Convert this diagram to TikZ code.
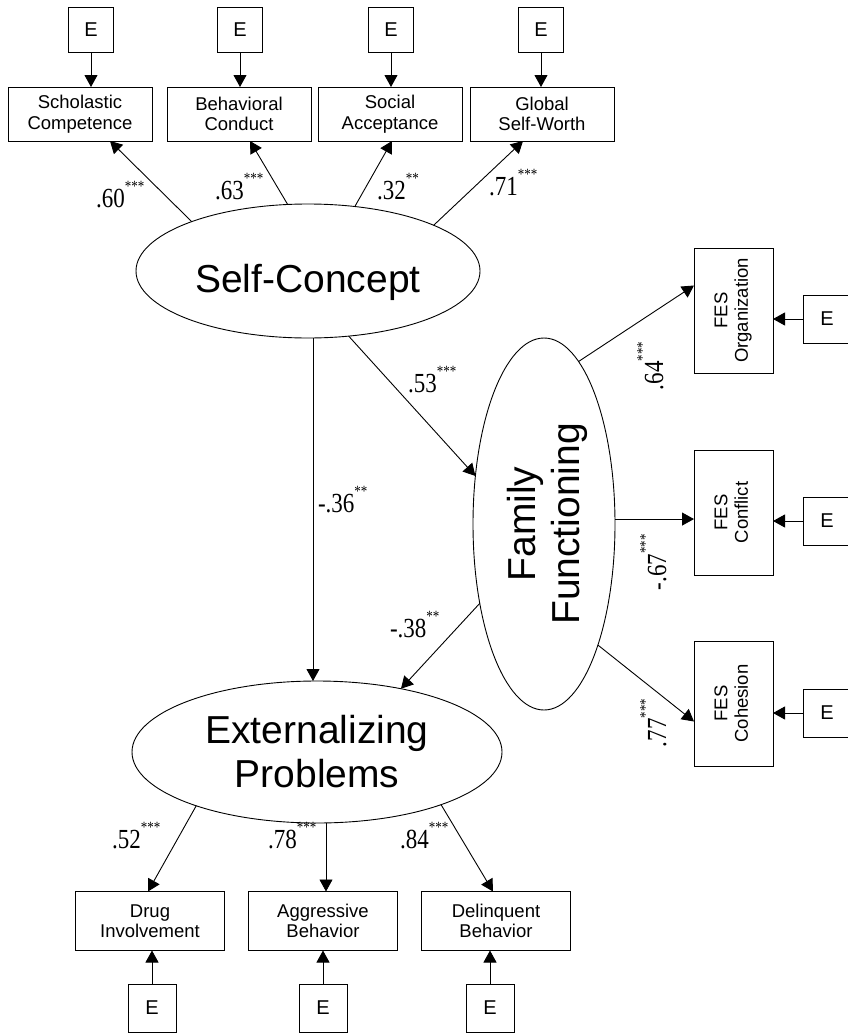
\documentclass[tikz,border=0pt]{standalone}
\usepackage{fontspec}
\setmainfont{Liberation Serif}
\setsansfont{Liberation Sans}
\usetikzlibrary{arrows.meta,shapes.geometric}
\newcommand\cf[2]{\scalebox{1}[1.2]{#1\raisebox{13pt}{\fontsize{13}{13}\selectfont #2}}}
\begin{document}
\begin{tikzpicture}[x=1pt,y=-1pt,
 every node/.style={inner sep=0pt, outer sep=0pt},
 box/.style={draw, line width=0.9pt, font=\sffamily\fontsize{18.5}{20.5}\selectfont, align=center},
 errbox/.style={box, font=\sffamily\fontsize{20}{20}\selectfont, minimum width=45pt, minimum height=45pt},
 errboxb/.style={errbox, minimum width=48pt, minimum height=48pt},
 indtop/.style={box, minimum width=144pt, minimum height=54pt},
 indbot/.style={box, minimum width=149pt, minimum height=59pt},
 fes/.style={box, minimum width=79pt, minimum height=125pt},
 latent/.style={draw, line width=0.9pt, ellipse, font=\sffamily\fontsize{39}{44}\selectfont, align=center},
 conn/.style={line width=0.9pt, -{Triangle[length=12pt,width=13pt]}},
 coef/.style={font=\fontsize{23}{23}\selectfont, anchor=base west},
 coefr/.style={coef, rotate=90},
]
\path[fill=white, use as bounding box] (0,0) rectangle (848,1033);

% latent variables
\node[latent, minimum width=344pt, minimum height=134pt] (sc) at (308,271)
  {\raisebox{-11pt}[28pt][8pt]{Self-Concept}};
\node[latent, minimum width=370pt, minimum height=142pt] (ep) at (317,752)
  {Externalizing\\Problems};
\node[latent, minimum width=142pt, minimum height=372pt] (ff) at (544,524)
  {\hspace*{10pt}\rotatebox{90}{\begin{tabular}{@{}c@{}}Family\\Functioning\end{tabular}}};

% top indicators
\node[indtop] (sch) at (80,114) {Scholastic\\Competence};
\node[indtop] (beh) at (239,114) {Behavioral\\Conduct};
\node[indtop] (soc) at (390,114) {Social\\Acceptance};
\node[indtop] (glo) at (542,114) {Global\\Self-Worth};
\node[errbox] (e1) at (91,30) {E};
\node[errbox] (e2) at (240,30) {E};
\node[errbox] (e3) at (391,30) {E};
\node[errbox] (e4) at (541,30) {E};

% FES indicators
\node[fes] (org) at (733.5,310.5) {\rotatebox{90}{\begin{tabular}{@{}c@{}}FES\\Organization\end{tabular}}};
\node[fes] (con) at (733.5,512.5) {\rotatebox{90}{\begin{tabular}{@{}c@{}}FES\\Conflict\end{tabular}}};
\node[fes] (coh) at (733.5,703.5) {\rotatebox{90}{\begin{tabular}{@{}c@{}}FES\\Cohesion\end{tabular}}};
\node[errboxb] (e5) at (827,319) {E};
\node[errboxb] (e6) at (827,521) {E};
\node[errboxb] (e7) at (827,713) {E};

% bottom indicators
\node[indbot] (drug) at (150,921) {Drug\\Involvement};
\node[indbot] (agg) at (323,921) {Aggressive\\Behavior};
\node[indbot] (del) at (496,921) {Delinquent\\Behavior};
\node[errboxb] (e8) at (152,1008) {E};
\node[errboxb] (e9) at (323,1008) {E};
\node[errboxb] (e10) at (490,1008) {E};

% error arrows
\foreach \e/\t in {e1/sch,e2/beh,e3/soc,e4/glo}
  \draw[conn] (\e.south) -- (\e.south |- \t.north);
\foreach \e/\t in {e5/org,e6/con,e7/coh}
  \draw[conn] (\e.west) -- (\e.west -| \t.east);
\foreach \e/\t in {e8/drug,e9/agg,e10/del}
  \draw[conn] (\e.north) -- (\e.north |- \t.south);

% loadings of self-concept
\draw[conn] (sc.157.8) -- ([xshift=30pt]sch.south);
\draw[conn] (sc.107.6) -- ([xshift=11pt]beh.south);
\draw[conn] (sc.54.5) -- ([xshift=2pt]soc.south);
\draw[conn] (sc.20) -- ([xshift=-19pt]glo.south);

% structural paths
\draw[conn] ([xshift=5pt]sc.south) -- ([xshift=-4pt]ep.north);
\draw[conn] (sc.-58) -- (ff.145);
\draw[conn] (ff.231) -- (ep.37);

% family functioning loadings
\draw[conn] (ff.78) -- ([yshift=25pt]org.west);
\draw[conn] (ff.4) -- (ff.4 -| con.west);
\draw[conn] (ff.-66) -- ([yshift=-18pt]coh.west);

% externalizing loadings
\draw[conn] (ep.204.6) -- ([xshift=-2pt]drug.north);
\draw[conn] ([xshift=9pt]ep.south) -- ([xshift=3pt]agg.north);
\draw[conn] (ep.-23.5) -- ([xshift=-3pt]del.north);

% coefficients
\node[coef] (c1) at (96,207) {\cf{.60}{***}};
\node[coef] (c2) at (215,199) {\cf{.63}{***}};
\node[coef] (c3) at (377,199) {\cf{.32}{**}};
\node[coef] (c4) at (489,195) {\cf{.71}{***}};
\node[coef] (c5) at (408,392) {\cf{.53}{***}};
\node[coef] (c6) at (318,512) {\cf{-.36}{**}};
\node[coef] (c7) at (390,637) {\cf{-.38}{**}};
\node[coef] (c8) at (112,848) {\cf{.52}{***}};
\node[coef] (c9) at (268,848) {\cf{.78}{***}};
\node[coef] (c10) at (400,848) {\cf{.84}{***}};
\node[coefr] (c11) at (663,390) {\cf{.64}{***}};
\node[coefr] (c12) at (666,590) {\cf{-.67}{***}};
\node[coefr] (c13) at (666,747) {\cf{.77}{***}};
\end{tikzpicture}
\end{document}
